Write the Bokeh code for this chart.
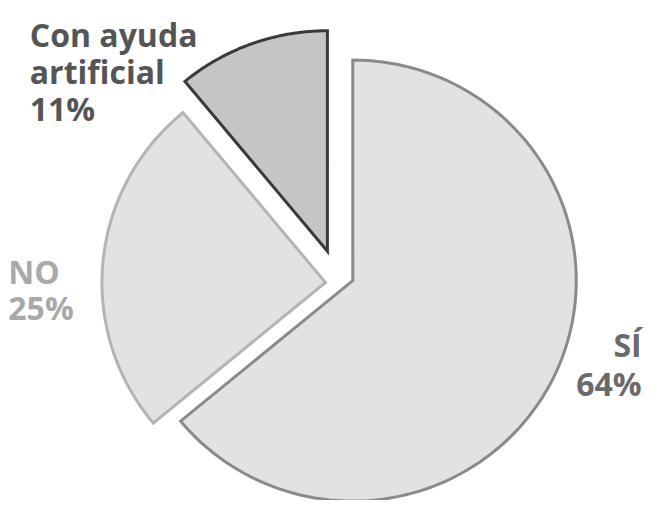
import numpy as np
from bokeh.plotting import figure
from bokeh.models import ColumnDataSource, Range1d
from bokeh.core.properties import value
from bokeh.embed import file_html
from bokeh.resources import INLINE

# ---- data ----
categories = ["SÍ", "NO", "Con ayuda artificial"]
percentages = [64, 25, 11]
label_lines = [["SÍ", "64%"], ["NO", "25%"], ["Con ayuda", "artificial", "11%"]]

# ---- styles ----
fill_colors = ["#e2e2e2", "#e2e2e2", "#c5c5c5"]
line_colors = ["#8a8a8a", "#b4b4b4", "#3a3a3a"]
text_colors = ["#6a6a6a", "#a9a9a9", "#555555"]

W, H = 647, 500
S = 647 / 663.0  # scale reference pixels into the available area

def sx(x):
    return x * S
def sy(y):
    return H - y * S

center = (sx(361), sy(287))
rx, ry = 229 * S, 226 * S
offsets = [(0, 0), (-28 * S, -2 * S), (-26 * S, 30 * S)]
label_anchor = [(sx(657), sy(353), "right"), (sx(8), sy(278), "left"), (sx(30), sy(35), "left")]
line_gaps = [39 * S, 37 * S, 38 * S]

p = figure(width=W, height=H, x_range=Range1d(0, W), y_range=Range1d(0, H),
           output_backend="svg", toolbar_location=None, min_border=0)
p.axis.visible = False
p.grid.visible = False
p.outline_line_color = None
p.background_fill_color = "white"
p.border_fill_color = "white"

total = sum(percentages)
xs, ys = [], []
start = 0.0
for pct, (ox, oy) in zip(percentages, offsets):
    sweep = pct / total * 2 * np.pi
    t = np.linspace(start, start + sweep, 120)
    cx, cy = center[0] + ox, center[1] + oy
    px = cx + rx * np.sin(t)
    py = cy + ry * np.cos(t)
    xs.append([cx] + list(px))
    ys.append([cy] + list(py))
    start += sweep

src = ColumnDataSource(dict(xs=xs, ys=ys, fill=fill_colors, line=line_colors, cat=categories))
p.patches("xs", "ys", source=src, fill_color="fill", line_color="line",
          line_width=3, line_join="miter")

tx, ty, tt, tc, ta = [], [], [], [], []
for lines, (ax, ay, al), gap, col in zip(label_lines, label_anchor, line_gaps, text_colors):
    for i, ln in enumerate(lines):
        tx.append(ax)
        ty.append(ay - i * gap)
        tt.append(ln)
        tc.append(col)
        ta.append(al)

tsrc = ColumnDataSource(dict(x=tx, y=ty, text=tt, color=tc, align=ta))
p.text("x", "y", text="text", source=tsrc, text_color="color", text_align="align",
       text_baseline="alphabetic", text_font=value("Open Sans"), text_font_style="bold",
       text_font_size="32px")

open("out.html", "w").write(file_html(p, INLINE))
